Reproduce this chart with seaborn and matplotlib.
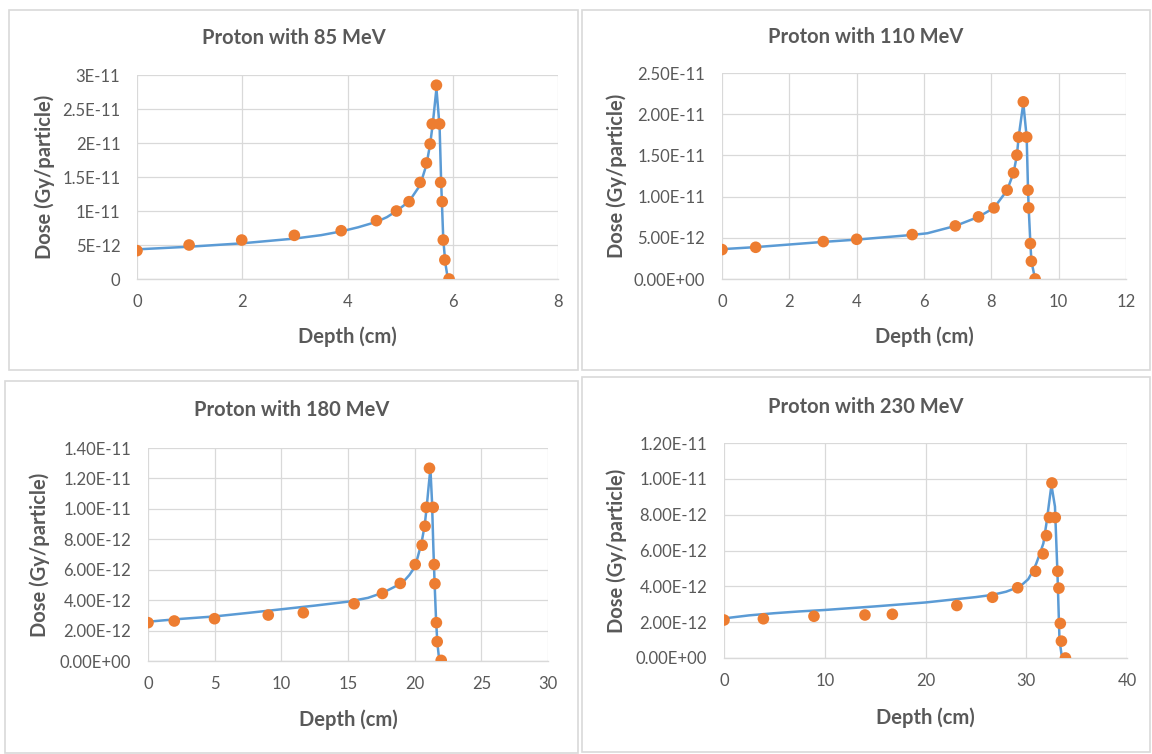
import numpy as np
import pandas as pd
import matplotlib
matplotlib.use("Agg")
import matplotlib.pyplot as plt
from matplotlib.patches import Rectangle
import seaborn as sns

# ---------------- data (dose in units of 1E-12 Gy/particle) ----------------
titles = ["Proton with 85 MeV", "Proton with 110 MeV", "Proton with 180 MeV", "Proton with 230 MeV"]

# 85 MeV
pts_x_85 = [0, 0.99, 1.99, 2.99, 3.88, 4.55, 4.93, 5.17, 5.38, 5.50, 5.57, 5.61, 5.69, 5.75, 5.77, 5.80, 5.82, 5.85, 5.93]
pts_y_85 = [4.17, 5.0, 5.73, 6.42, 7.1, 8.58, 10.0, 11.37, 14.2, 17.06, 19.85, 22.8, 28.5, 22.8, 14.2, 11.37, 5.73, 2.8, 0.0]
line_x_85 = [0, 1, 2, 3, 3.5, 3.88, 4.2, 4.55, 4.75, 4.93, 5.17, 5.38, 5.50, 5.57, 5.62, 5.69, 5.75, 5.78, 5.82, 5.86, 5.90, 5.95]
line_y_85 = [4.36, 4.75, 5.25, 5.95, 6.45, 7.0, 7.6, 8.4, 9.1, 10.0, 11.4, 13.8, 16.8, 19.8, 22.8, 28.0, 22.4, 14.2, 5.8, 2.3, 0.35, 0.0]

# 110 MeV
pts_x_110 = [0, 1.0, 3.01, 4.0, 5.65, 6.93, 7.62, 8.08, 8.47, 8.66, 8.76, 8.81, 8.95, 9.05, 9.09, 9.11, 9.16, 9.19, 9.30]
pts_y_110 = [3.57, 3.85, 4.54, 4.82, 5.39, 6.44, 7.54, 8.63, 10.78, 12.88, 15.03, 17.22, 21.5, 17.22, 10.78, 8.63, 4.3, 2.15, 0.0]
line_x_110 = [0, 1, 3, 4, 5.65, 6.1, 6.93, 7.62, 8.08, 8.47, 8.66, 8.76, 8.81, 8.95, 9.05, 9.09, 9.11, 9.16, 9.19, 9.30]
line_y_110 = [3.62, 3.87, 4.5, 4.78, 5.35, 5.55, 6.44, 7.54, 8.63, 10.78, 12.9, 15.0, 17.2, 21.35, 17.2, 10.8, 8.6, 4.3, 2.15, 0.0]

# 180 MeV
pts_x_180 = [0, 1.97, 4.99, 9.02, 11.65, 15.46, 17.58, 18.92, 20.04, 20.56, 20.78, 20.87, 21.11, 21.39, 21.47, 21.52, 21.63, 21.69, 21.99]
pts_y_180 = [2.52, 2.63, 2.78, 3.02, 3.17, 3.76, 4.44, 5.1, 6.34, 7.61, 8.86, 10.1, 12.67, 10.1, 6.34, 5.08, 2.52, 1.27, 0.04]
line_x_180 = [0, 1, 2.5, 5, 7.5, 10, 12.5, 15, 16.5, 17.65, 18.5, 19.15, 19.6, 20.03, 20.25, 20.5, 20.75,
              20.9, 21.05, 21.18, 21.3, 21.4, 21.5, 21.6, 21.7, 21.8, 21.93]
line_y_180 = [2.58, 2.66, 2.77, 2.93, 3.16, 3.4, 3.64, 3.9, 4.15, 4.5, 4.88, 5.21, 5.65, 6.2, 6.9, 7.7, 8.9,
              10.1, 11.5, 12.65, 10.5, 7.5, 5.0, 2.8, 1.2, 0.4, 0.0]

# 230 MeV
pts_x_230 = [0, 3.91, 8.93, 13.99, 16.71, 23.11, 26.65, 29.15, 30.92, 31.68, 32.01, 32.30, 32.55, 32.88, 33.13, 33.24, 33.38, 33.49, 33.89]
pts_y_230 = [2.12, 2.19, 2.33, 2.4, 2.44, 2.93, 3.39, 3.92, 4.84, 5.81, 6.83, 7.84, 9.77, 7.84, 4.84, 3.9, 1.93, 0.94, 0.0]
line_x_230 = [0, 2.5, 5, 7.5, 10, 15, 20, 23, 25, 26.6, 28, 28.9, 29.6, 30.2, 30.7, 31.0, 31.4, 31.7, 32.0,
              32.3, 32.5, 32.85, 33.1, 33.3, 33.5, 33.7]
line_y_230 = [2.21, 2.38, 2.5, 2.6, 2.68, 2.88, 3.1, 3.28, 3.4, 3.52, 3.7, 3.89, 4.1, 4.4, 4.9, 5.28, 5.9, 6.4, 7.5,
              8.8, 9.65, 8.45, 4.7, 1.0, 0.2, 0.0]

# axis ticks
xticks_85 = [0, 2, 4, 6, 8]
xticks_110 = [0, 2, 4, 6, 8, 10, 12]
xticks_180 = [0, 5, 10, 15, 20, 25, 30]
xticks_230 = [0, 10, 20, 30, 40]
yticks_85 = [0, 5, 10, 15, 20, 25, 30]
ylabels_85 = ["0", "5E-12", "1E-11", "1.5E-11", "2E-11", "2.5E-11", "3E-11"]
yticks_110 = [0, 5, 10, 15, 20, 25]
ylabels_110 = ["0.00E+00", "5.00E-12", "1.00E-11", "1.50E-11", "2.00E-11", "2.50E-11"]
yticks_180 = [0, 2, 4, 6, 8, 10, 12, 14]
ylabels_180 = ["0.00E+00", "2.00E-12", "4.00E-12", "6.00E-12", "8.00E-12", "1.00E-11", "1.20E-11", "1.40E-11"]
yticks_230 = [0, 2, 4, 6, 8, 10, 12]
ylabels_230 = ["0.00E+00", "2.00E-12", "4.00E-12", "6.00E-12", "8.00E-12", "1.00E-11", "1.20E-11"]

xlabel = "Depth (cm)"
ylabel = "Dose (Gy/particle)"

# ---------------- styling ----------------
sns.set_theme(style="white")
plt.rcParams["font.family"] = ["Lato", "DejaVu Sans"]

W, H = 1152, 754
fig = plt.figure(figsize=(W / 100, H / 100), dpi=100)
fig.patch.set_facecolor("white")

LINE_C = "#5B9BD5"
MARK_C = "#ED7D31"
GRID_C = "#D9D9D9"
TEXT_C = "#595959"

panels = [
    dict(px=pts_x_85, py=pts_y_85, lx=line_x_85, ly=line_y_85, xt=xticks_85, yt=yticks_85, yl=ylabels_85,
         plot=(137, 75, 558, 279), box=(9, 10, 578, 370), title_y=38, xlab_y=337, ylab_x=45),
    dict(px=pts_x_110, py=pts_y_110, lx=line_x_110, ly=line_y_110, xt=xticks_110, yt=yticks_110, yl=ylabels_110,
         plot=(722, 73, 1126, 279), box=(582, 10, 1150, 370), title_y=37, xlab_y=337, ylab_x=617),
    dict(px=pts_x_180, py=pts_y_180, lx=line_x_180, ly=line_y_180, xt=xticks_180, yt=yticks_180, yl=ylabels_180,
         plot=(148, 448, 548, 661), box=(5, 381, 578, 753), title_y=410, xlab_y=720, ylab_x=40),
    dict(px=pts_x_230, py=pts_y_230, lx=line_x_230, ly=line_y_230, xt=xticks_230, yt=yticks_230, yl=ylabels_230,
         plot=(724, 443, 1127, 658), box=(582, 377, 1150, 752), title_y=407, xlab_y=718, ylab_x=617),
]

for i, p in enumerate(panels):
    x0, yt_, x1, yb = p["plot"]
    ax = fig.add_axes([x0 / W, 1 - yb / H, (x1 - x0) / W, (yb - yt_) / H])
    ax.set_facecolor("none")

    # panel border
    bx0, by0, bx1, by1 = p["box"]
    fig.patches.append(Rectangle((bx0 / W, 1 - by1 / H), (bx1 - bx0) / W, (by1 - by0) / H,
                                 transform=fig.transFigure, fill=False, edgecolor=GRID_C, lw=1.2, zorder=0))

    ldf = pd.DataFrame({"x": p["lx"], "y": p["ly"]})
    pdf = pd.DataFrame({"x": p["px"], "y": p["py"]})
    sns.lineplot(data=ldf, x="x", y="y", sort=False, estimator=None, color=LINE_C, lw=1.8, ax=ax, zorder=2)
    sns.scatterplot(data=pdf, x="x", y="y", color=MARK_C, s=70, edgecolor="none", ax=ax, zorder=3)

    ax.set_xlim(p["xt"][0], p["xt"][-1])
    ax.set_ylim(p["yt"][0], p["yt"][-1])
    ax.set_xticks(p["xt"])
    ax.set_yticks(p["yt"])
    ax.set_yticklabels(p["yl"])
    ax.grid(True, color=GRID_C, lw=0.9)
    ax.set_axisbelow(True)
    for s in ["top", "right", "left"]:
        ax.spines[s].set_visible(False)
    ax.spines["bottom"].set_color(GRID_C)
    ax.spines["bottom"].set_linewidth(1.0)
    ax.tick_params(axis="both", length=0, labelsize=12, colors=TEXT_C)
    ax.tick_params(axis="x", pad=11)
    ax.tick_params(axis="y", pad=12)
    ax.set_xlabel("")
    ax.set_ylabel("")

    cx = (bx0 + bx1) / 2
    fig.text(cx / W, 1 - p["title_y"] / H, titles[i],
             ha="center", va="center", fontsize=14.5, fontweight="bold", color=TEXT_C)
    fig.text((x0 + x1) / 2 / W, 1 - p["xlab_y"] / H, xlabel, ha="center", va="center",
             fontsize=14.5, fontweight="bold", color=TEXT_C)
    fig.text(p["ylab_x"] / W, 1 - (yt_ + yb) / 2 / H, ylabel, ha="center", va="center", rotation=90,
             fontsize=14.5, fontweight="bold", color=TEXT_C)

fig.savefig("out.png", dpi=100, facecolor="white")
